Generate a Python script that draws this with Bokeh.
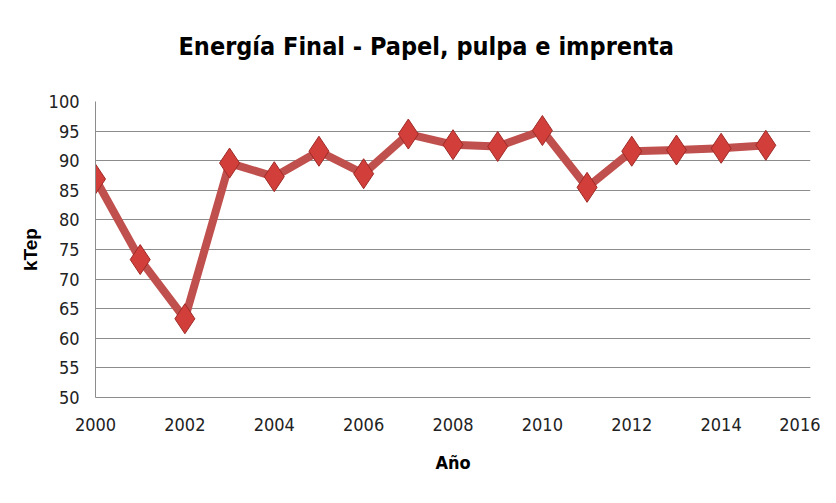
from bokeh.plotting import figure
from bokeh.embed import file_html
from bokeh.resources import INLINE
from bokeh.models import ColumnDataSource, FixedTicker, Range1d, Title

years = [2000, 2001, 2002, 2003, 2004, 2005, 2006, 2007,
         2008, 2009, 2010, 2011, 2012, 2013, 2014, 2015]
ktep = [86.9, 73.3, 63.3, 89.6, 87.3, 91.6, 87.8, 94.5,
        92.7, 92.4, 95.1, 85.5, 91.6, 91.8, 92.1, 92.6]
x_ticks = [2000, 2002, 2004, 2006, 2008, 2010, 2012, 2014, 2016]
y_ticks = [50, 55, 60, 65, 70, 75, 80, 85, 90, 95, 100]

title_text = "Energía Final  - Papel, pulpa e imprenta"
x_label = "Año"
y_label = "kTep"

NARROW = "'DejaVu Sans Condensed', sans-serif"
SANS = "'Liberation Sans', Arial, sans-serif"

src = ColumnDataSource(dict(x=years, y=ktep))

p = figure(width=820, height=487, output_backend="svg", toolbar_location=None,
           x_range=Range1d(2000, 2016), y_range=Range1d(50, 100),
           min_border_left=95, min_border_right=10, min_border_bottom=90,
           min_border_top=101, title_location=None)

# spacer between frame and title (closest to the frame)
spacer = Title(text=" ", text_font_size="1px", standoff=33)
p.add_layout(spacer, "above")

main_title = Title(text=title_text, text_font=NARROW, text_font_size="25px",
                   text_font_style="bold", text_color="#000000",
                   align="left", offset=83, standoff=10)
p.add_layout(main_title, "above")

p.background_fill_color = "white"
p.border_fill_color = "white"
p.outline_line_color = None

p.line("x", "y", source=src, line_color="#C0504D", line_width=8)
p.scatter("x", "y", source=src, marker="diamond", size=30,
          fill_color="#D23F3B", line_color="#9E2A26", line_width=1)

p.xgrid.grid_line_color = None
p.ygrid.grid_line_color = "#8C8C8C"
p.ygrid.grid_line_width = 1

for ax in (p.xaxis[0], p.yaxis[0]):
    ax.axis_line_color = "#8C8C8C"
    ax.major_tick_line_color = None
    ax.minor_tick_line_color = None
    ax.major_label_text_font = NARROW
    ax.major_label_text_font_size = "18px"
    ax.major_label_text_color = "#222222"
    ax.axis_label_text_color = "#000000"
    ax.axis_label_text_font_style = "bold"

p.xaxis.ticker = FixedTicker(ticks=x_ticks)
p.yaxis.ticker = FixedTicker(ticks=y_ticks)
p.xaxis.major_label_standoff = 14
p.yaxis.major_label_standoff = 10

p.xaxis.axis_label = x_label
p.xaxis.axis_label_text_font = NARROW
p.xaxis.axis_label_text_font_size = "18px"
p.xaxis.axis_label_standoff = 18

p.yaxis.axis_label = y_label
p.yaxis.axis_label_text_font = SANS
p.yaxis.axis_label_text_font_size = "19px"
p.yaxis.axis_label_standoff = 5

open("out.html", "w").write(file_html(p, INLINE))
